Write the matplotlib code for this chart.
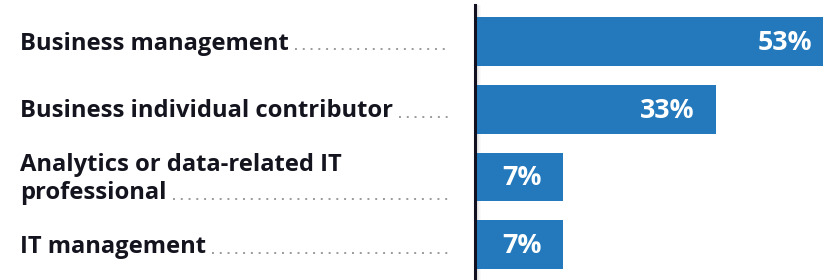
import matplotlib.pyplot as plt
import matplotlib.transforms as mtransforms

categories = [
    "Business management",
    "Business individual contributor",
    "Analytics or data-related IT\nprofessional",
    "IT management",
]
values = [53, 33, 7, 7]
value_labels = ["53%", "33%", "7%", "7%"]

BAR_COLOR = "#2379bb"
TEXT_COLOR = "#14141f"
DOT_COLOR = "#9a9a9a"
X0 = -8.1  # axis starts left of zero

plt.rcParams["font.family"] = ["Open Sans", "DejaVu Sans"]

fig = plt.figure(figsize=(8.23, 2.8), dpi=100)
ax = fig.add_axes([474.5 / 823, 0, 348.5 / 823, 275 / 280])
renderer = fig.canvas.get_renderer()


def fit_size(s, width_px, base=14):
    t = fig.text(0, 0, s, fontsize=base, fontweight="bold")
    w = t.get_window_extent(renderer).width
    t.remove()
    return base * width_px / w


cat_size = fit_size("Business management", 270)
val_size = fit_size("53%", 55)

y = list(range(len(values)))
ax.barh(y, [v - X0 for v in values], left=X0, height=0.72, color=BAR_COLOR)
ax.set_xlim(X0, X0 + 348.5 / 5.88)
ax.set_ylim(3.52, -0.54)

for yi, v, lab in zip(y, values, value_labels):
    ax.annotate(lab, xy=(v, yi), xytext=(-15.8, -1), textcoords="offset points",
                ha="right", va="center", color="white", fontsize=val_size,
                fontweight="bold", annotation_clip=False)

for s in ["top", "right", "bottom"]:
    ax.spines[s].set_visible(False)
ax.spines["left"].set_color("#111122")
ax.spines["left"].set_linewidth(2.2)
ax.set_xticks([])
ax.set_yticks([])

# faint shadow right of the axis line
for i, a in enumerate([0.10, 0.07, 0.04, 0.02]):
    ax.plot([X0, X0], [3.52, -0.54], color="#000000", alpha=a, lw=0.72,
            transform=mtransforms.offset_copy(ax.transData, fig=fig,
                                              x=(2 + i) / 100, y=0),
            clip_on=False, zorder=0.5)

trans = mtransforms.blended_transform_factory(fig.transFigure, ax.transData)
trans = mtransforms.offset_copy(trans, fig=fig, x=0, y=-2 / 100)
texts = []
for yi, cat in zip(y, categories):
    t = fig.text(20 / 823, yi, cat, transform=trans, ha="left", va="center",
                 fontsize=cat_size, fontweight="bold", color=TEXT_COLOR,
                 linespacing=1.2)
    texts.append(t)

fig.canvas.draw()
for t, cat in zip(texts, categories):
    bb = t.get_window_extent(renderer)
    last = cat.split("\n")[-1]
    tmp = fig.text(0, 0, last, fontsize=cat_size, fontweight="bold")
    w_last = tmp.get_window_extent(renderer).width
    tmp.remove()
    ypix = bb.y0 + 0.26 * cat_size * 100 / 72
    x_start = bb.x0 + w_last + 6
    x_end = 448
    fig.add_artist(plt.Line2D([x_start / 823, x_end / 823],
                              [ypix / 280, ypix / 280],
                              transform=fig.transFigure, color=DOT_COLOR,
                              lw=1.4, linestyle=(0, (1, 3)),
                              dash_capstyle="butt"))

fig.savefig("out.png", dpi=100)
